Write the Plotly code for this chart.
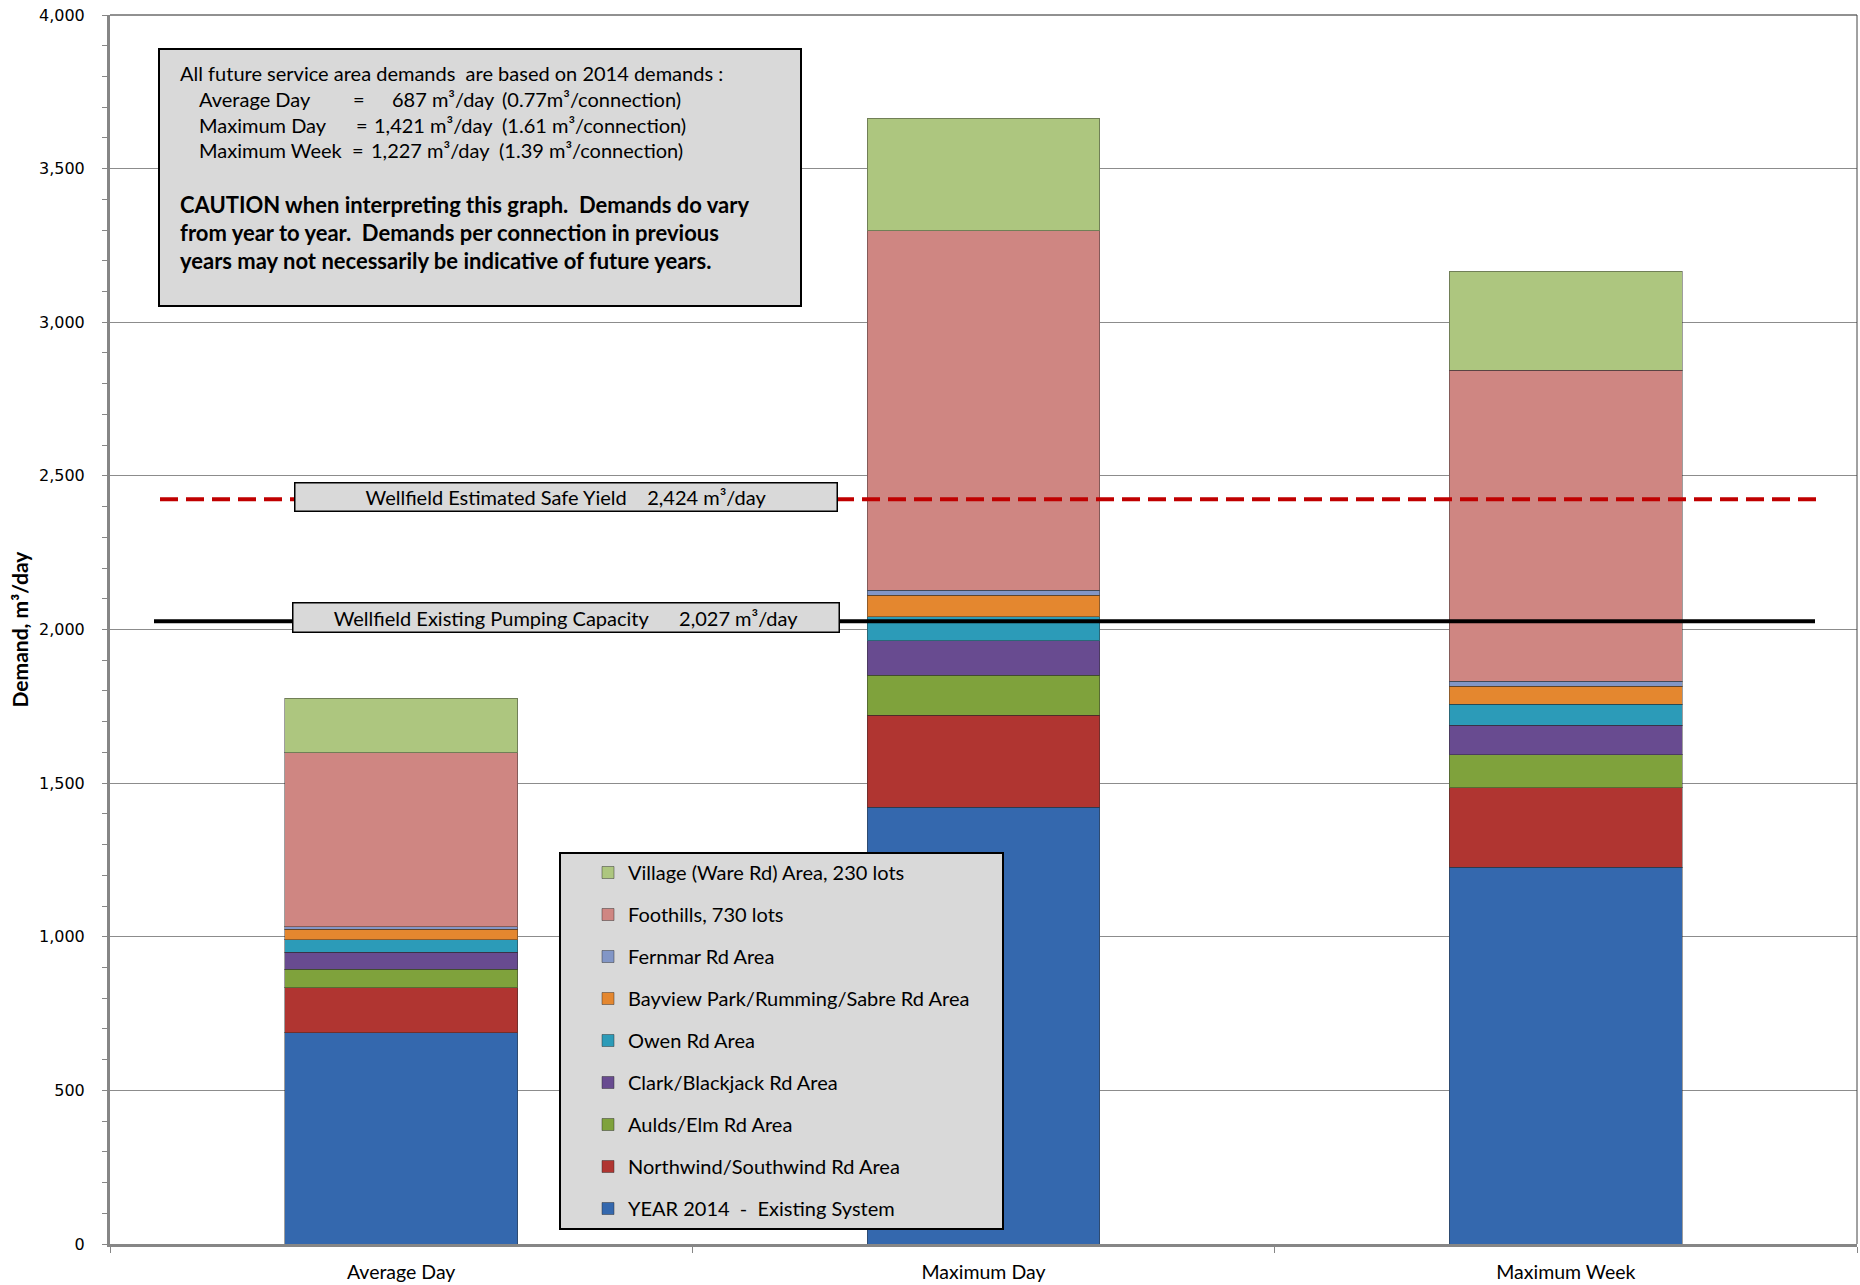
import plotly.graph_objects as go

# ---- data -------------------------------------------------------------
categories = ["Average Day", "Maximum Day", "Maximum Week"]

year_2014 = [687, 1421, 1227]
northwind_southwind = [147, 300, 258]
aulds_elm = [60, 130, 108]
clark_blackjack = [55, 112, 96]
owen_rd = [41, 79, 68]
bayview_rumming_sabre = [34, 70, 58]
fernmar_rd = [9, 15, 16]
foothills = [566, 1171, 1013]
village_ware_rd = [178, 366, 322]

series_names = [
    "YEAR 2014  -  Existing System",
    "Northwind/Southwind Rd Area",
    "Aulds/Elm Rd Area",
    "Clark/Blackjack Rd Area",
    "Owen Rd Area",
    "Bayview Park/Rumming/Sabre Rd Area",
    "Fernmar Rd Area",
    "Foothills, 730 lots",
    "Village (Ware Rd) Area, 230 lots",
]
series_values = [
    year_2014, northwind_southwind, aulds_elm, clark_blackjack, owen_rd,
    bayview_rumming_sabre, fernmar_rd, foothills, village_ware_rd,
]
series_colors = [
    "#3468ae", "#b03531", "#7fa23c", "#684b90", "#2c9bb8",
    "#e4872f", "#8296c6", "#cf8682", "#adc67f",
]

safe_yield = 2424
pumping_capacity = 2027

y_ticks = [0, 500, 1000, 1500, 2000, 2500, 3000, 3500, 4000]

# ---- page geometry ----------------------------------------------------
W, H = 1860, 1285
L, R, T, B = 110, 3, 15, 41
PW, PH = W - L - R, H - T - B


def xp(px):
    return (px - L) / PW


def yp(py):
    return (H - B - py) / PH


FONT = "Lato"

fig = go.Figure()
n = len(series_names)
for i, (name, vals, color) in enumerate(zip(series_names, series_values, series_colors)):
    fig.add_trace(go.Bar(
        x=categories, y=vals, name=name.replace("  ", "\u00a0 "),
        legendgroup=name, legendrank=n - i,
        marker=dict(color=color, line=dict(color="rgba(40,40,40,0.45)", width=1)),
    ))

shapes = [
    # frame top and right
    dict(type="line", xref="paper", yref="paper", x0=0, x1=1, y0=1, y1=1,
         line=dict(color="#222222", width=1)),
    dict(type="line", xref="paper", yref="paper", x0=1, x1=1, y0=0, y1=1,
         line=dict(color="#444444", width=1)),
    # wellfield lines
    dict(type="line", xref="paper", yref="y", x0=xp(160), x1=xp(1821),
         y0=safe_yield, y1=safe_yield,
         line=dict(color="#c00000", width=4, dash="18px,8px")),
    dict(type="line", xref="paper", yref="y", x0=xp(154), x1=xp(1815),
         y0=pumping_capacity, y1=pumping_capacity,
         line=dict(color="#000000", width=4)),
    # note box
    dict(type="rect", xref="paper", yref="paper", x0=xp(159), x1=xp(801),
         y0=yp(306), y1=yp(49), fillcolor="#d9d9d9",
         line=dict(color="#000000", width=2), layer="above"),
    # legend panel
    dict(type="rect", xref="paper", yref="paper", x0=xp(560), x1=xp(1003),
         y0=yp(1229), y1=yp(853), fillcolor="#d9d9d9",
         line=dict(color="#000000", width=2), layer="above"),
]

annotations = [
    dict(text="Wellfield Estimated Safe Yield\u00a0\u00a0\u00a0\u00a02,424 m³/day",
         xref="paper", yref="y", x=xp(565.5), y=safe_yield, yshift=2,
         xanchor="center", yanchor="middle",
         showarrow=False, font=dict(family=FONT, size=20, color="#000"),
         bgcolor="#d9d9d9", bordercolor="#000", borderwidth=1.5, borderpad=0,
         width=541, height=27, align="center"),
    dict(text="Wellfield Existing Pumping Capacity\u00a0\u00a0\u00a0\u00a0\u00a0\u00a02,027 m³/day",
         xref="paper", yref="y", x=xp(565.5), y=pumping_capacity, yshift=4,
         xanchor="center", yanchor="middle",
         showarrow=False, font=dict(family=FONT, size=20, color="#000"),
         bgcolor="#d9d9d9", bordercolor="#000", borderwidth=1.5, borderpad=0,
         width=545, height=28, align="center"),
    dict(text="Demand, m³/day", textangle=-90, xref="paper", yref="paper",
         x=xp(19), y=0.5, xanchor="center", yanchor="middle", showarrow=False,
         font=dict(family=FONT, size=21, color="#000", weight="bold")),
]


def note(text, px, py, bold=False, size=20):
    annotations.append(dict(
        text=text, xref="paper", yref="paper", x=xp(px), y=yp(py),
        xanchor="left", yanchor="middle", showarrow=False,
        font=dict(family=FONT, size=size, color="#000",
                  weight="bold" if bold else "normal"),
    ))


note("All future service area demands\u00a0 are based on 2014 demands :", 178, 73)
rows = [
    ("Average Day", 99, 351, "687 m³/day", 389.5, "(0.77m³/connection)", 500),
    ("Maximum Day", 124.6, 354, "1,421 m³/day", 371.5, "(1.61 m³/connection)", 500),
    ("Maximum Week", 149.6, 350.4, "1,227 m³/day", 369.4, "(1.39 m³/connection)", 497),
]
for label, ry, xeq, val, xval, per, xper in rows:
    note(label, 197, ry)
    note("=", xeq, ry)
    note(val, xval, ry)
    note(per, xper, ry)

note("CAUTION when interpreting this graph.\u00a0 Demands do vary", 178, 204.5, bold=True, size=22)
note("from year to year.\u00a0 Demands per connection in previous", 178, 232.8, bold=True, size=22)
note("years may not necessarily be indicative of future years.", 178, 261, bold=True, size=22)

fig.update_layout(
    width=W, height=H,
    margin=dict(l=L, r=R, t=T, b=B, pad=0),
    barmode="stack", bargap=0.6,
    plot_bgcolor="#ffffff", paper_bgcolor="#ffffff",
    font=dict(family=FONT, color="#000"),
    shapes=shapes, annotations=annotations,
    showlegend=True,
    legend=dict(
        x=xp(588), xanchor="left", y=yp(853), yanchor="top",
        bgcolor="rgba(0,0,0,0)", borderwidth=0,
        font=dict(family=FONT, size=20, color="#000"),
        traceorder="grouped", tracegroupgap=13,
    ),
    xaxis=dict(
        showline=True, linecolor="#868686", linewidth=3,
        ticks="outside", tickson="boundaries", ticklen=6, tickcolor="#868686",
        tickfont=dict(family=FONT, size=19.5, color="#000"),
        ticklabelstandoff=9, showgrid=False,
    ),
    yaxis=dict(
        range=[0, 4000], tickvals=y_ticks, tickformat=",",
        showline=True, linecolor="#868686", linewidth=3,
        ticks="outside", ticklen=5, tickcolor="#868686",
        tickfont=dict(family="DejaVu Sans", size=16, color="#000"),
        ticklabelstandoff=14,
        showgrid=True, gridcolor="#8c8c8c", gridwidth=1,
        minor=dict(dtick=100, ticks="outside", ticklen=5, tickcolor="#868686", showgrid=False),
        zeroline=False,
    ),
)

fig.write_html("out.html")
